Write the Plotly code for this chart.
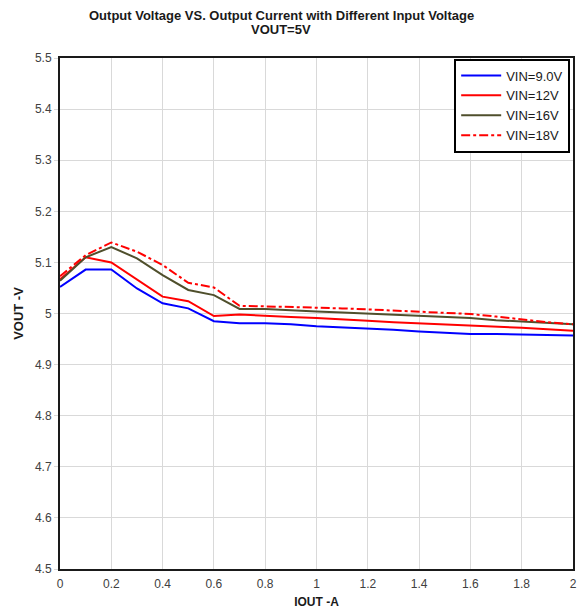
import plotly.graph_objects as go

iout = [0, 0.1, 0.2, 0.3, 0.4, 0.5, 0.6, 0.7, 0.8, 0.9, 1.0, 1.1, 1.2, 1.3, 1.4, 1.5, 1.6, 1.7, 1.8, 1.9, 2.0]
vin_9 = [5.052, 5.086, 5.086, 5.049, 5.020, 5.010, 4.985, 4.981, 4.981, 4.979, 4.975, 4.973, 4.970, 4.968, 4.965, 4.962, 4.960, 4.960, 4.959, 4.957, 4.957]
vin_12 = [5.067, 5.110, 5.100, 5.067, 5.033, 5.024, 4.995, 4.998, 4.995, 4.993, 4.991, 4.989, 4.986, 4.983, 4.981, 4.979, 4.976, 4.974, 4.972, 4.969, 4.966]
vin_16 = [5.064, 5.110, 5.130, 5.108, 5.075, 5.046, 5.036, 5.009, 5.009, 5.006, 5.004, 5.002, 5.000, 4.998, 4.996, 4.993, 4.991, 4.987, 4.984, 4.981, 4.979]
vin_18 = [5.073, 5.114, 5.139, 5.121, 5.095, 5.060, 5.051, 5.015, 5.014, 5.013, 5.011, 5.010, 5.008, 5.006, 5.004, 5.001, 4.999, 4.994, 4.988, 4.983, 4.979]

x_ticks = [0, 0.2, 0.4, 0.6, 0.8, 1, 1.2, 1.4, 1.6, 1.8, 2]
x_tick_labels = ["0", "0.2", "0.4", "0.6", "0.8", "1", "1.2", "1.4", "1.6", "1.8", "2"]
y_ticks = [4.5, 4.6, 4.7, 4.8, 4.9, 5.0, 5.1, 5.2, 5.3, 5.4, 5.5]
y_tick_labels = ["4.5", "4.6", "4.7", "4.8", "4.9", "5", "5.1", "5.2", "5.3", "5.4", "5.5"]

title_lines = ["Output Voltage VS. Output Current with Different Input Voltage", "VOUT=5V"]

series = [
    ("VIN=9.0V", vin_9, "#0000ff", "solid"),
    ("VIN=12V", vin_12, "#ff0000", "solid"),
    ("VIN=16V", vin_16, "#4f4f2c", "solid"),
    ("VIN=18V", vin_18, "#ff0000", "dashdot"),
]

fig = go.Figure()
for name, ys, color, dash in series:
    fig.add_trace(go.Scatter(
        x=iout, y=ys, mode="lines", name=name,
        line=dict(color=color, width=2, dash=dash),
    ))

font_family = "Liberation Sans, Arial, sans-serif"

# two-line title as annotations (tighter line spacing than a plotly title)
for text, ypos in zip(title_lines, [1.0841, 1.0548]):
    fig.add_annotation(
        text=f"<b>{text}</b>", xref="paper", yref="paper",
        x=0.4308, y=ypos, xanchor="center", yanchor="middle",
        showarrow=False, font=dict(size=13, color="#1a1a1a", family=font_family),
    )

fig.update_layout(
    width=587, height=609,
    margin=dict(l=60, r=14, t=58, b=40, autoexpand=False),
    paper_bgcolor="white", plot_bgcolor="white",
    font=dict(family=font_family, color="#404040", size=12),
    showlegend=True,
    legend=dict(
        x=0.9945, xanchor="right", y=0.999, yanchor="top",
        bgcolor="white", bordercolor="black", borderwidth=2,
        font=dict(size=13, color="#1a1a1a", family=font_family),
        tracegroupgap=0, itemwidth=40,
    ),
    xaxis=dict(
        range=[0, 2], tickvals=x_ticks, ticktext=x_tick_labels,
        showgrid=True, gridcolor="#d9d9d9", gridwidth=1,
        showline=True, linecolor="#1a1a1a", linewidth=2, mirror=True,
        ticks="outside", ticklen=3, tickcolor="rgba(0,0,0,0)", zeroline=False,
        automargin=False,
        tickfont=dict(size=12, color="#404040"),
        title=dict(text="<b>IOUT -A</b>", font=dict(size=12, color="#1a1a1a"), standoff=10),
    ),
    yaxis=dict(
        range=[4.5, 5.5], tickvals=y_ticks, ticktext=y_tick_labels,
        showgrid=True, gridcolor="#d9d9d9", gridwidth=1,
        showline=True, linecolor="#1a1a1a", linewidth=2, mirror=True,
        ticks="outside", ticklen=4, tickcolor="#d9d9d9", zeroline=False,
        automargin=False,
        tickfont=dict(size=12, color="#404040"),
        title=dict(text="<b>VOUT -V</b>", font=dict(size=13, color="#1a1a1a"), standoff=8),
    ),
)

fig.write_html("out.html", config={"displayModeBar": False},
               post_script="document.body.style.margin='0';")
